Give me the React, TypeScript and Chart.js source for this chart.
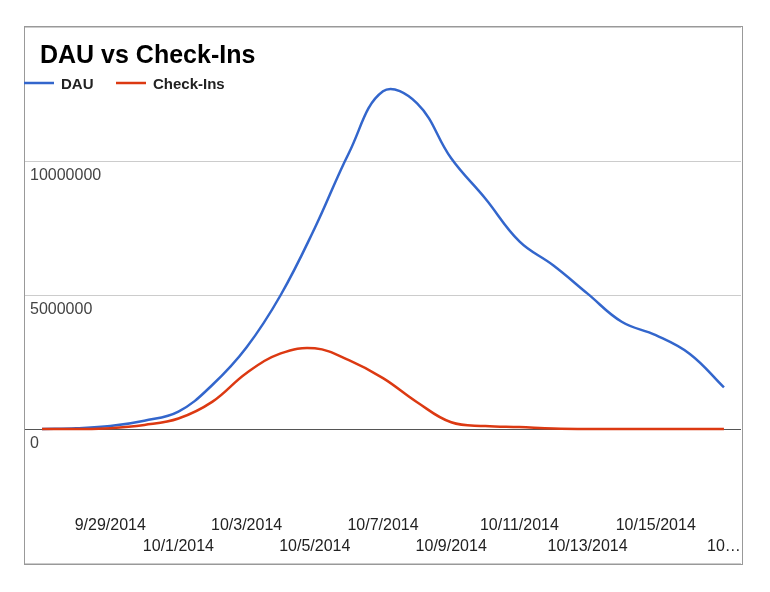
import React, { useEffect, useRef } from 'react';
import { Chart, registerables } from 'chart.js';

Chart.register(...registerables);

const dates = [
  '9/27/2014', '9/28/2014', '9/29/2014', '9/30/2014', '10/1/2014', '10/2/2014', '10/3/2014',
  '10/4/2014', '10/5/2014', '10/6/2014', '10/7/2014', '10/8/2014', '10/9/2014', '10/10/2014',
  '10/11/2014', '10/12/2014', '10/13/2014', '10/14/2014', '10/15/2014', '10/16/2014', '10/17/2014',
];

const dau = [
  0, 30000, 110000, 310000, 650000, 1650000, 3050000,
  5000000, 7500000, 10300000, 12600000, 12150000, 10100000, 8600000,
  7000000, 6100000, 5050000, 4000000, 3500000, 2800000, 1550000,
];

const checkIns = [
  0, 0, 30000, 150000, 390000, 1020000, 2090000,
  2820000, 3010000, 2570000, 1900000, 1000000, 250000, 110000,
  70000, 20000, 0, 0, 0, 0, 0,
];

// x tick labels as displayed (every other day, alternating in two rows, last truncated)
const xTickLabels = [
  '', '', '9/29/2014', '', '10/1/2014', '', '10/3/2014',
  '', '10/5/2014', '', '10/7/2014', '', '10/9/2014', '',
  '10/11/2014', '', '10/13/2014', '', '10/15/2014', '', '10…',
];

const yTickValues = [0, 5000000, 10000000];
const yMin = -5000000;
const yMax = 15000000;
const yStep = 5000000;

const title = 'DAU vs Check-Ins';
const seriesNames = ['DAU', 'Check-Ins'];
const seriesColors = ['#3366cc', '#dc3912'];

const FONT = 'Arial, "Liberation Sans", sans-serif';

const overlayPlugin = {
  id: 'overlay',
  afterDraw(chart: any) {
    const ctx = chart.ctx as CanvasRenderingContext2D;
    const a = chart.chartArea;
    const xs = chart.scales.x;
    ctx.save();

    // frame around the plot
    ctx.strokeStyle = '#999999';
    ctx.lineWidth = 1;
    ctx.strokeRect(a.left - 0.5, a.top - 0.5, a.right - a.left + 2, a.bottom - a.top + 2);

    // title
    ctx.fillStyle = '#000000';
    ctx.font = `bold 25px ${FONT}`;
    ctx.textAlign = 'left';
    ctx.textBaseline = 'alphabetic';
    ctx.fillText(title, a.left + 15, a.top + 36);

    // legend
    ctx.font = `bold 15px ${FONT}`;
    const legendX = [a.left - 1, a.left + 91];
    seriesNames.forEach((name, i) => {
      const x0 = legendX[i];
      ctx.strokeStyle = seriesColors[i];
      ctx.lineWidth = 2.5;
      ctx.beginPath();
      ctx.moveTo(x0, a.top + 56);
      ctx.lineTo(x0 + 30, a.top + 56);
      ctx.stroke();
      ctx.fillStyle = '#222222';
      ctx.fillText(name, x0 + 37, a.top + 62);
    });

    // x labels, two alternating rows
    ctx.font = `16px ${FONT}`;
    ctx.fillStyle = '#222222';
    ctx.textAlign = 'center';
    let n = 0;
    xTickLabels.forEach((lab, i) => {
      if (!lab) return;
      const x = xs.getPixelForValue(i);
      const y = n % 2 === 0 ? a.bottom - 33 : a.bottom - 12.5;
      ctx.fillText(lab, x, y);
      n++;
    });

    ctx.restore();
  },
};

export default function App() {
  const canvasRef = useRef<HTMLCanvasElement | null>(null);

  useEffect(() => {
    if (!canvasRef.current) return;
    const chart = new Chart(canvasRef.current, {
      type: 'line',
      data: {
        labels: dates,
        datasets: [
          {
            label: seriesNames[0],
            data: dau,
            borderColor: seriesColors[0],
            backgroundColor: seriesColors[0],
            borderWidth: 2.5,
            pointRadius: 0,
            tension: 0.4,
            fill: false,
            order: 1,
          },
          {
            label: seriesNames[1],
            data: checkIns,
            borderColor: seriesColors[1],
            backgroundColor: seriesColors[1],
            borderWidth: 2.5,
            pointRadius: 0,
            tension: 0.4,
            fill: false,
            order: 0,
          },
        ],
      },
      options: {
        responsive: false,
        animation: false,
        layout: { padding: { left: 15, right: 29, top: 27, bottom: 29 } },
        plugins: {
          legend: { display: false },
          title: { display: false },
          tooltip: { enabled: false },
        },
        scales: {
          x: { type: 'category', display: false, offset: true },
          y: {
            min: yMin,
            max: yMax,
            border: { display: false },
            grid: {
              drawTicks: false,
              tickLength: 0,
              lineWidth: 1,
              color: (c: any) => (c.tick && c.tick.value === 0 ? '#555555' : '#cccccc'),
            },
            ticks: {
              stepSize: yStep,
              mirror: true,
              padding: 5,
              labelOffset: 15,
              color: '#444444',
              font: { family: FONT, size: 16 },
              callback: (v: any) => (yTickValues.includes(Number(v)) ? String(v) : ''),
            },
          },
        },
      },
      plugins: [overlayPlugin],
    });
    return () => chart.destroy();
  }, []);

  return (
    <div style={{ position: 'absolute', left: 0, top: 0, width: 770, height: 592 }}>
      <canvas ref={canvasRef} width={770} height={592} style={{ display: 'block' }} />
    </div>
  );
}
